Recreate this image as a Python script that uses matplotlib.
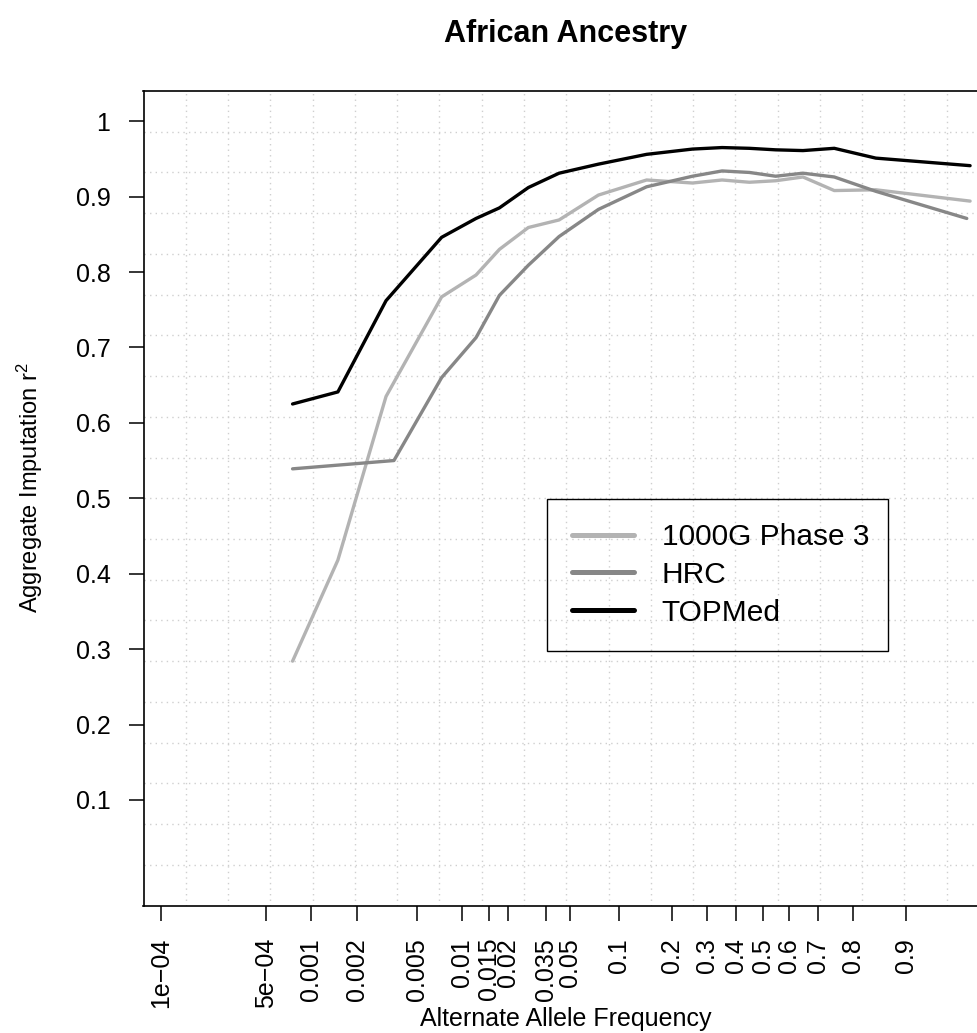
import matplotlib
matplotlib.use('Agg')
import matplotlib.pyplot as plt
from matplotlib.ticker import FixedLocator, FixedFormatter, NullLocator
from matplotlib.lines  import Line2D
from matplotlib.patches import Rectangle

plt.rcParams['font.family']      = ['Liberation Sans', 'DejaVu Sans']
plt.rcParams['mathtext.fontset'] = 'custom'
plt.rcParams['mathtext.rm']      = 'Liberation Sans'
plt.rcParams['mathtext.it']      = 'Liberation Sans'

### Mean alternate allele frequency of each bin, and aggregate r2 per panel
freq_1000g = [0.00075, 0.0015, 0.00313, 0.0073, 0.0123, 0.0175, 0.027, 0.0425, 0.075,
              0.145, 0.255, 0.35, 0.45, 0.55, 0.65, 0.75, 0.85, 0.96]
r2_1000g   = [0.284, 0.418, 0.635, 0.767, 0.796, 0.830, 0.859, 0.869, 0.902,
              0.922, 0.918, 0.922, 0.919, 0.921, 0.926, 0.908, 0.909, 0.894]

freq_hrc   = [0.00075, 0.00353, 0.0073, 0.0123, 0.0175, 0.027, 0.0425, 0.075,
              0.145, 0.255, 0.35, 0.45, 0.55, 0.65, 0.75, 0.85, 0.958]
r2_hrc     = [0.539, 0.550, 0.660, 0.713, 0.769, 0.809, 0.847, 0.883,
              0.913, 0.927, 0.934, 0.932, 0.927, 0.931, 0.926, 0.907, 0.871]

freq_topmed = [0.00075, 0.0015, 0.00313, 0.0073, 0.0123, 0.0175, 0.027, 0.0425, 0.075,
               0.145, 0.255, 0.35, 0.45, 0.55, 0.65, 0.75, 0.85, 0.96]
r2_topmed   = [0.625, 0.641, 0.762, 0.846, 0.871, 0.885, 0.912, 0.931, 0.943,
               0.956, 0.963, 0.965, 0.964, 0.962, 0.961, 0.964, 0.951, 0.941]

panels = ['1000G Phase 3', 'HRC', 'TOPMed']
colors = ['#b3b3b3', '#878787', '#000000']

x_ticks  = [1e-4, 5e-4, 0.001, 0.002, 0.005, 0.01, 0.015, 0.02, 0.035, 0.05,
            0.1, 0.2, 0.3, 0.4, 0.5, 0.6, 0.7, 0.8, 0.9]
x_labels = ['1e\u221204', '5e\u221204', '0.001', '0.002', '0.005', '0.01', '0.015',
            '0.02', '0.035', '0.05', '0.1', '0.2', '0.3', '0.4', '0.5', '0.6',
            '0.7', '0.8', '0.9']
y_ticks  = [0.1, 0.2, 0.3, 0.4, 0.5, 0.6, 0.7, 0.8, 0.9, 1.0]
y_labels = ['0.1', '0.2', '0.3', '0.4', '0.5', '0.6', '0.7', '0.8', '0.9', '1']

W, H = 977, 1033
fig = plt.figure(figsize=(W / 100, H / 100), dpi=100)
ax  = fig.add_axes([143.5 / W, (H - 905.5) / H, (989 - 143.5) / W, (905.5 - 91) / H])

### Grid: 20 x 20 equal cells over the plot region
for i in range(1, 20):
	ax.plot([i / 20, i / 20], [0, 1], transform=ax.transAxes, color='#cfcfcf',
	        lw=1, linestyle=(0, (1, 3)), zorder=1)
	ax.plot([0, 1], [i / 20, i / 20], transform=ax.transAxes, color='#cfcfcf',
	        lw=1, linestyle=(0, (1, 3)), zorder=1)

series = [(freq_1000g, r2_1000g), (freq_hrc, r2_hrc), (freq_topmed, r2_topmed)]
for (f, r2), c in zip(series, colors):
	ax.plot(f, r2, color=c, lw=2.4, solid_capstyle='round', solid_joinstyle='round', zorder=3)

ax.set_xscale('logit')
ax.set_xlim(7.66e-5, 0.96975)
ax.set_ylim(-0.04, 1.04)

ax.xaxis.set_major_locator(FixedLocator(x_ticks))
ax.xaxis.set_major_formatter(FixedFormatter(x_labels))
ax.xaxis.set_minor_locator(NullLocator())
ax.yaxis.set_major_locator(FixedLocator(y_ticks))
ax.yaxis.set_major_formatter(FixedFormatter(y_labels))
ax.yaxis.set_minor_locator(NullLocator())

ax.tick_params(axis='both', direction='out', length=10.8, width=1.1, labelsize=18, color='black')
ax.tick_params(axis='x', labelrotation=90, pad=12.5)
ax.tick_params(axis='y', pad=13)

for s in ax.spines.values():
	s.set_linewidth(1.2)

### Titles and axis labels
fig.text(566 / W, 1 - 34 / H, 'African Ancestry', ha='center', va='center',
         fontsize=22, fontweight='bold')
fig.text(566 / W, (H - 1019) / H, 'Alternate Allele Frequency', ha='center', va='center',
         fontsize=18)
fig.text(30 / W, (H - 488) / H, 'Aggregate Imputation r$^{2}$', ha='center', va='center',
         rotation=90, fontsize=17)

### Legend
handles = [Line2D([], [], color=c, lw=3.6, solid_capstyle='round') for c in colors]
fig.legend(handles, panels, loc='upper left',
           bbox_to_anchor=(572 / W, (H - 523) / H), frameon=False, fontsize=21.5,
           borderpad=0, borderaxespad=0, handlelength=2.07, handletextpad=0.93,
           labelspacing=0.33)
fig.patches.append(Rectangle((546.7 / W, (H - 651) / H), (888.3 - 546.7) / W, (651 - 499) / H,
                             transform=fig.transFigure, fill=False, ec='black', lw=1))

fig.savefig('out.png', dpi=100)
